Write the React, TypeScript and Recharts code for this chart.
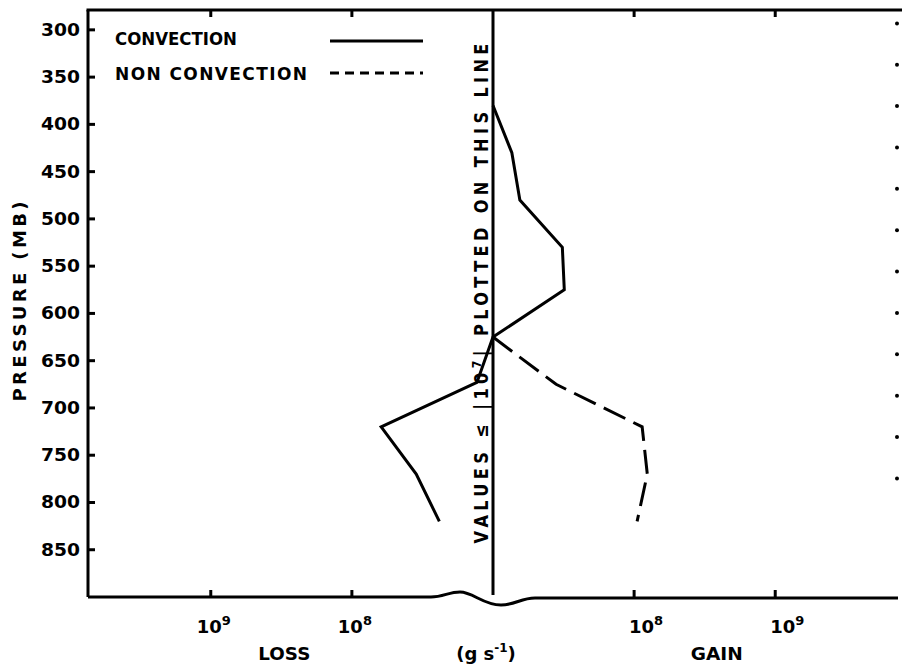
import React from "react";
import {
  ScatterChart,
  Scatter,
  XAxis,
  YAxis,
  ReferenceLine,
  Legend,
} from "recharts";

const FONT = "'DejaVu Sans', sans-serif";

// pressure levels (mb) and net flux (g s^-1, gain +, loss -); |value| <= 1e7 sits on the centre line
const convectionPressure = [380, 430, 480, 530, 575, 625, 673, 720, 770, 820];
const convectionFlux = [0, 1.36e7, 1.55e7, 3.1e7, 3.2e7, 0, -1.3e7, -6.2e7, -3.5e7, -2.4e7];
const nonConvectionPressure = [625, 675, 720, 770, 820];
const nonConvectionFlux = [0, 2.8e7, 1.14e8, 1.24e8, 1.05e8];

const pressureTicks = [300, 350, 400, 450, 500, 550, 600, 650, 700, 750, 800, 850];
// decades away from 10^7, negative = loss side
const decadeTicks = [-2, -1, 1, 2];
const bottomTicks = [-2, -1.5, -1, 0, 1, 1.5, 2];
const rightTicks = [0, 1, 2, 3, 4, 5, 6, 7, 8, 9, 10, 11];

const P_TOP = 279;
const P_BOTTOM = 900;

const toAxis = (v: number) =>
  v === 0 ? 0 : Math.sign(v) * Math.max(0, Math.log10(Math.abs(v)) - 7);

const convectionData = convectionPressure.map((p, i) => ({ p, x: toAxis(convectionFlux[i]) }));
const nonConvectionData = nonConvectionPressure.map((p, i) => ({ p, x: toAxis(nonConvectionFlux[i]) }));

const txt = { fontFamily: FONT, fontWeight: "bold" as const, fill: "#000" };

const LeftTick = (props: any) => {
  const { x, y, payload } = props;
  return (
    <g>
      <path d={`M ${x} ${y} h 7`} stroke="#000" strokeWidth={3} fill="none" />
      <text x={x - 8} y={y + 6} textAnchor="end" fontSize={17} {...txt}
        textLength={39} lengthAdjust="spacingAndGlyphs">
        {payload.value}
      </text>
    </g>
  );
};

const RightDot = (props: any) => {
  const { x, y } = props;
  return <circle cx={x - 1} cy={y} r={2} fill="#000" />;
};

const BottomTick = (props: any) => {
  const { x, y, payload } = props;
  const v = payload.value as number;
  const a = Math.abs(v);
  if (a === 1 || a === 2) {
    const dx = v > 0 ? 12 : 3;
    return (
      <g>
        <path d={`M ${x} ${y} v -7`} stroke="#000" strokeWidth={3} fill="none" />
        <text x={x + dx} y={y + 36} textAnchor="middle" fontSize={18} {...txt}>
          10<tspan dy={-8} fontSize={13}>{7 + a}</tspan>
        </text>
      </g>
    );
  }
  if (a === 1.5) {
    return (
      <text x={x + (v > 0 ? 12 : 3)} y={y + 63} textAnchor="middle" fontSize={18} {...txt}
        textLength={52} lengthAdjust="spacingAndGlyphs">
        {v < 0 ? "LOSS" : "GAIN"}
      </text>
    );
  }
  return (
    <text x={x - 7} y={y + 63} textAnchor="middle" fontSize={18} {...txt}>
      (g  s<tspan dy={-8} fontSize={12}>-1</tspan><tspan dy={8}>)</tspan>
    </text>
  );
};

const WaveAxis = (props: any) => {
  const { x1, x2, y1 } = props;
  const c = (x1 + x2) / 2;
  const y0 = y1;
  const d = `M ${x1} ${y0} L ${c - 62} ${y0} C ${c - 50} ${y0} ${c - 44} ${y0 - 5} ${c - 33} ${y0 - 5}
    C ${c - 20} ${y0 - 5} ${c - 10} ${y0 + 8} ${c + 8} ${y0 + 8}
    C ${c + 22} ${y0 + 8} ${c + 28} ${y0 + 1} ${c + 42} ${y0 + 1} L ${x2} ${y0 + 1}`;
  return <path d={d} fill="none" stroke="#000" strokeWidth={3} />;
};

const TopBorder = (props: any) => {
  const { x1, x2, y1 } = props;
  return <path d={`M ${x1 - 1.5} ${y1} H ${x2 + 4}`} stroke="#000" strokeWidth={3} fill="none" />;
};

// only the top stub of a vertical reference line: the inward tick of the top border
const TopTick = (props: any) => {
  const { x1, y1, y2 } = props;
  const top = Math.min(y1, y2);
  return <path d={`M ${x1} ${top} v 7`} stroke="#000" strokeWidth={3} fill="none" />;
};

const CenterLine = (props: any) => {
  const { x1, y1, y2 } = props;
  const top = Math.min(y1, y2);
  const bottom = Math.max(y1, y2);
  const mid = (top + bottom) / 2 - 10;
  return (
    <g>
      <path d={`M ${x1} ${top} V ${bottom - 2}`} stroke="#000" strokeWidth={3} fill="none" />
      <text transform={`translate(${x1 - 5}, ${mid}) rotate(-90) scale(0.85, 1)`}
        textAnchor="middle" fontSize={19} {...txt} textLength={588} lengthAdjust="spacing">
        VALUES ≤ |10<tspan dy={-7} fontSize={13}>7</tspan><tspan dy={7}>|</tspan> PLOTTED ON THIS LINE
      </text>
    </g>
  );
};

const PressureLabel = (props: any) => {
  const { viewBox } = props;
  const cy = viewBox.y + viewBox.height / 2 - 2;
  return (
    <text transform={`translate(18, ${cy}) rotate(-90)`} textAnchor="middle"
      fontSize={18} {...txt} textLength={200} lengthAdjust="spacing">
      PRESSURE (MB)
    </text>
  );
};

const LegendBox = () => (
  <svg width={430} height={90} style={{ display: "block" }}>
    <text x={107} y={37} fontSize={17} {...txt} textLength={122} lengthAdjust="spacingAndGlyphs">
      CONVECTION
    </text>
    <line x1={322} y1={33} x2={415} y2={33} stroke="#000" strokeWidth={3} />
    <text x={107} y={72} fontSize={17} {...txt} textLength={192} lengthAdjust="spacing">
      NON CONVECTION
    </text>
    <line x1={322} y1={65} x2={415} y2={65} stroke="#000" strokeWidth={3} strokeDasharray="9 6" />
  </svg>
);

const noMark = () => <g />;

export default function App() {
  return (
    <div style={{ position: "absolute", left: 8, top: 8, width: 894, height: 660 }}>
      <ScatterChart width={894} height={660} margin={{ top: 2, right: 2, bottom: 0, left: 0 }}>
        <XAxis type="number" dataKey="x" domain={[-2.87, 2.87]} ticks={bottomTicks}
          interval={0} allowDataOverflow axisLine={false} tickLine={false}
          tickSize={0} tickMargin={0} height={71} tick={BottomTick} />
        <YAxis type="number" dataKey="p" domain={[P_TOP, P_BOTTOM]} reversed allowDataOverflow
          ticks={pressureTicks} interval={0} width={80}
          axisLine={{ stroke: "#000", strokeWidth: 3 }} tickLine={false}
          tickSize={0} tickMargin={0} tick={LeftTick} label={PressureLabel} />
        <YAxis yAxisId="r" orientation="right" type="number" dataKey="k" domain={[-0.324, 13.868]}
          reversed allowDataOverflow ticks={rightTicks} interval={0} width={2}
          axisLine={false} tickLine={false} tickSize={0} tickMargin={0} tick={RightDot} />
        <ReferenceLine y={P_TOP} ifOverflow="visible" shape={TopBorder} />
        {decadeTicks.map((t) => (
          <ReferenceLine key={t} x={t} ifOverflow="visible" shape={TopTick} />
        ))}
        <ReferenceLine x={0} ifOverflow="visible" shape={CenterLine} />
        <ReferenceLine y={P_BOTTOM} ifOverflow="visible" shape={WaveAxis} />
        <Scatter name="CONVECTION" data={convectionData} isAnimationActive={false}
          line={{ stroke: "#000", strokeWidth: 3 }} lineType="joint" shape={noMark} />
        <Scatter name="NON CONVECTION" data={nonConvectionData} isAnimationActive={false}
          line={{ stroke: "#000", strokeWidth: 3, strokeDasharray: "24 9" }}
          lineType="joint" shape={noMark} />
        <Scatter yAxisId="r" data={[]} isAnimationActive={false}
          shape={noMark} legendType="none" />
        <Legend content={() => <LegendBox />} layout="horizontal" align="center"
          verticalAlign="middle" wrapperStyle={{ top: 0, left: 0, width: 430, height: 90 }} />
      </ScatterChart>
    </div>
  );
}
